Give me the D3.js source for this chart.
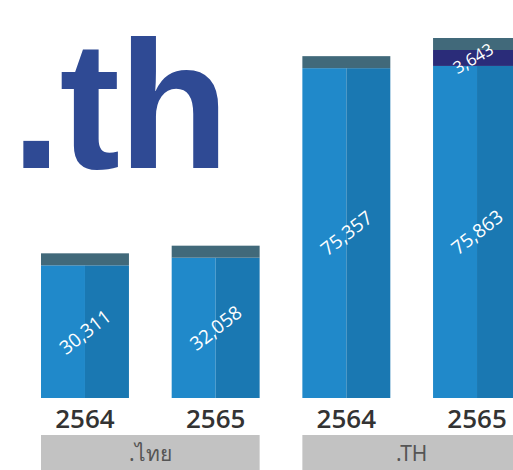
<!DOCTYPE html>
<html>
<head>
<meta charset="utf-8">
<script src="https://cdn.jsdelivr.net/npm/d3@7"></script>
<style>
  body { margin: 0; background: #fff; overflow: hidden; }
</style>
</head>
<body>
<div id="chart"></div>
<script>
const groups = [".ไทย", ".TH"];
const years = ["2564", "2565", "2564", "2565"];
const barGroup = [0, 0, 1, 1];
const mainValues = [30311, 32058, 75357, 75863];
const extraValues = [0, 0, 0, 3643];

const width = 513;
const height = 470;
const baseY = 398;
const capH = 12;

const svg = d3
  .select("#chart")
  .append("svg")
  .attr("width", width)
  .attr("height", height);

svg
  .append("text")
  .attr("x", 11)
  .attr("y", 168)
  .attr("font-family", "Liberation Sans, Arial, sans-serif")
  .attr("font-weight", "bold")
  .attr("font-size", 182)
  .attr("letter-spacing", -2)
  .attr("fill", "#2f4a94")
  .text(".th");

const bars = mainValues.map((v, i) => ({
  i,
  main: v,
  extra: extraValues[i],
  year: years[i],
  group: barGroup[i]
}));

const x = d3
  .scaleBand()
  .domain(bars.map((d) => d.i))
  .range([41, 521])
  .paddingInner(0.327)
  .paddingOuter(0);

const maxTotal = d3.max(bars, (d) => d.main + d.extra);
const y = d3.scaleLinear().domain([0, maxTotal]).range([baseY, 50]);

const bw = x.bandwidth();
const g = svg.append("g");

const bar = g.selectAll("g.bar").data(bars).join("g").attr("class", "bar");

// left (lighter) and right (darker) halves
bar
  .append("rect")
  .attr("x", (d) => x(d.i))
  .attr("y", (d) => y(d.main))
  .attr("width", bw / 2)
  .attr("height", (d) => baseY - y(d.main))
  .attr("fill", "#2089ca");

bar
  .append("rect")
  .attr("x", (d) => x(d.i) + bw / 2)
  .attr("y", (d) => y(d.main))
  .attr("width", bw / 2)
  .attr("height", (d) => baseY - y(d.main))
  .attr("fill", "#1a78b2");

bar
  .filter((d) => d.extra > 0)
  .append("rect")
  .attr("x", (d) => x(d.i))
  .attr("y", (d) => y(d.main + d.extra))
  .attr("width", bw)
  .attr("height", (d) => y(d.main) - y(d.main + d.extra))
  .attr("fill", "#2a2c79");

// top cap
bar
  .append("rect")
  .attr("x", (d) => x(d.i))
  .attr("y", (d) => y(d.main + d.extra) - capH)
  .attr("width", bw)
  .attr("height", capH)
  .attr("fill", "#41697a");

bar
  .append("text")
  .attr("transform", (d) => {
    const cx = x(d.i) + bw / 2;
    const cy = (y(d.main) + baseY) / 2;
    return `translate(${cx},${cy}) rotate(-38)`;
  })
  .attr("text-anchor", "middle")
  .attr("dominant-baseline", "central")
  .attr("font-family", "Open Sans, sans-serif")
  .attr("font-size", 19)
  .attr("fill", "#fff")
  .text((d) => d3.format(",")(d.main));

bar
  .filter((d) => d.extra > 0)
  .append("text")
  .attr("transform", (d) => {
    const cx = x(d.i) + bw / 2 - 4;
    const cy = (y(d.main) + y(d.main + d.extra)) / 2;
    return `translate(${cx},${cy}) rotate(-30)`;
  })
  .attr("text-anchor", "middle")
  .attr("dominant-baseline", "central")
  .attr("font-family", "Open Sans, sans-serif")
  .attr("font-size", 17)
  .attr("fill", "#fff")
  .text((d) => d3.format(",")(d.extra));

bar
  .append("text")
  .attr("x", (d) => x(d.i) + bw / 2)
  .attr("y", 428)
  .attr("text-anchor", "middle")
  .attr("font-family", "Open Sans, sans-serif")
  .attr("font-weight", 600)
  .attr("font-size", 26)
  .attr("fill", "#333")
  .text((d) => d.year);

// category boxes
const groupSpans = groups.map((name, gi) => {
  const members = bars.filter((d) => d.group === gi);
  return {
    name,
    x0: d3.min(members, (d) => x(d.i)),
    x1: d3.max(members, (d) => x(d.i) + bw)
  };
});

const box = svg.selectAll("g.box").data(groupSpans).join("g").attr("class", "box");

box
  .append("rect")
  .attr("x", (d) => d.x0)
  .attr("y", 435)
  .attr("width", (d) => d.x1 - d.x0)
  .attr("height", 40)
  .attr("fill", "#c2c2c2");

box
  .append("text")
  .attr("x", (d) => (d.x0 + d.x1) / 2)
  .attr("y", 461)
  .attr("text-anchor", "middle")
  .attr("font-family", "Noto Sans, Open Sans, sans-serif")
  .attr("font-size", 21)
  .attr("fill", "#555")
  .text((d) => d.name);
</script>
</body>
</html>
